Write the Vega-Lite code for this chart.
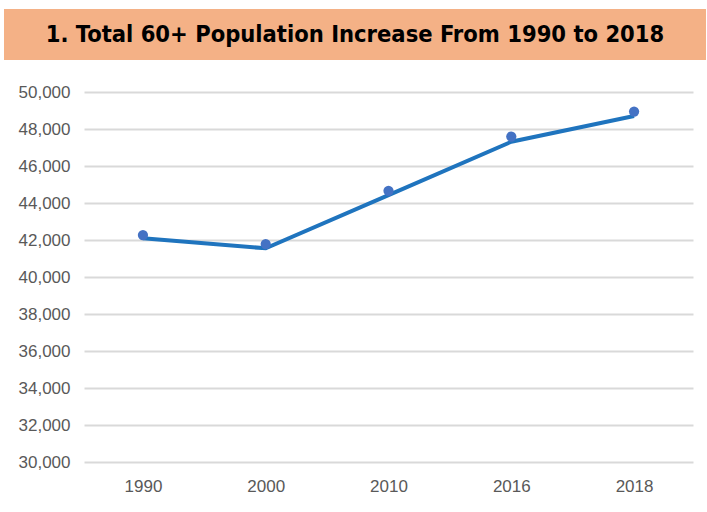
{
  "$schema": "https://vega.github.io/schema/vega-lite/v6.json",
  "padding": {"left": 4, "top": 9, "right": 1, "bottom": 5},
  "background": "white",
  "columns": 1,
  "spacing": 23,
  "config": {"view": {"stroke": null}},
  "concat": [
    {
      "width": 702,
      "height": 51,
      "view": {"fill": "#F4B186", "stroke": null},
      "data": {"values": [{"t": "1. Total 60+ Population Increase From 1990 to 2018"}]},
      "mark": {"type": "text", "font": "'DejaVu Sans Condensed', 'Liberation Sans', sans-serif", "fontWeight": "bold", "fontSize": 23.5, "color": "#000000"},
      "encoding": {"text": {"field": "t"}}
    },
    {
      "width": 689,
      "height": 370,
      "data": {"values": [
        {"year": "1990", "pop": 42270, "line": 42090},
        {"year": "2000", "pop": 41780, "line": 41550},
        {"year": "2010", "pop": 44660, "line": 44430},
        {"year": "2016", "pop": 47590, "line": 47310},
        {"year": "2018", "pop": 48940, "line": 48700}
      ]},
      "encoding": {
        "x": {
          "field": "year", "type": "ordinal",
          "scale": {"type": "point", "padding": 0.48, "range": [80, 689]},
          "axis": {"title": null, "labelAngle": 0, "domain": false, "ticks": false, "labelPadding": 16, "labelFontSize": 17, "labelFont": "Liberation Sans", "labelColor": "#595959"}
        }
      },
      "layer": [
        {
          "mark": {"type": "line", "color": "#1F74BE", "strokeWidth": 4},
          "encoding": {
            "y": {
              "field": "line", "type": "quantitative",
              "scale": {"domain": [30000, 50000], "nice": false, "zero": false},
              "axis": {"title": null, "offset": -80, "values": [30000, 32000, 34000, 36000, 38000, 40000, 42000, 44000, 46000, 48000, 50000], "format": ",.0f", "labelOverlap": false, "domain": false, "ticks": false, "labelPadding": 14, "labelFontSize": 17, "labelFont": "Liberation Sans", "labelColor": "#595959", "gridColor": "#D9D9D9", "gridWidth": 2}
            }
          }
        },
        {
          "mark": {"type": "point", "filled": true, "color": "#4472C4", "size": 105, "opacity": 1},
          "encoding": {
            "y": {
              "field": "pop", "type": "quantitative",
              "axis": {"title": null, "offset": -80, "values": [30000, 32000, 34000, 36000, 38000, 40000, 42000, 44000, 46000, 48000, 50000], "format": ",.0f", "labelOverlap": false, "domain": false, "ticks": false, "labelPadding": 14, "labelFontSize": 17, "labelFont": "Liberation Sans", "labelColor": "#595959", "gridColor": "#D9D9D9", "gridWidth": 2}
            }
          }
        }
      ]
    }
  ]
}
